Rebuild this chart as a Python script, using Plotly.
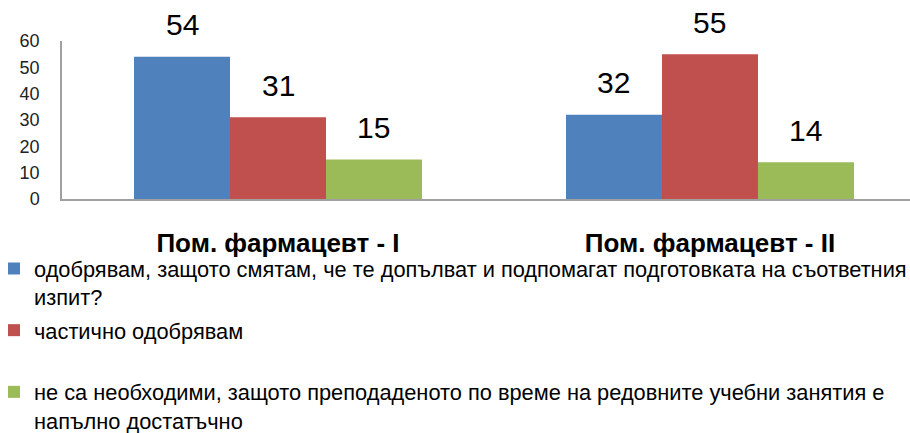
import plotly.graph_objects as go

categories = ["Пом. фармацевт - I", "Пом. фармацевт - II"]
series_names = [
    "одобрявам, защото смятам, че те допълват и подпомагат подготовката на съответния<br>изпит?",
    "частично одобрявам<br>\u00a0",
    "не са необходими, защото преподаденото по време на редовните учебни занятия е<br>напълно достатъчно",
]
series_values = [
    [54, 32],
    [31, 55],
    [15, 14],
]
colors = ["#4F81BD", "#C0504D", "#9BBB59"]
y_ticks = [0, 10, 20, 30, 40, 50, 60]

BARGAP = 1 / 3
FONT = "Liberation Sans, Arial, sans-serif"

fig = go.Figure()
for j, (name, vals, col) in enumerate(zip(series_names, series_values, colors)):
    fig.add_trace(go.Bar(
        x=[0, 1], y=vals, name=name, marker=dict(color=col, line=dict(width=0)),
        legendgroup=f"g{j}", hoverinfo="skip",
    ))

n = len(series_values)
bw = (1 - BARGAP) / n
annotations = []
for j, vals in enumerate(series_values):
    for i, v in enumerate(vals):
        annotations.append(dict(
            x=i + (j - (n - 1) / 2) * bw, y=v, xref="x", yref="y",
            text=str(v), showarrow=False, yanchor="middle", yshift=32,
            font=dict(family=FONT, size=30, color="#000000"),
        ))

fig.update_layout(
    width=910, height=433,
    margin=dict(l=62, r=0, t=41, b=234, autoexpand=False),
    paper_bgcolor="white", plot_bgcolor="white",
    barmode="group", bargap=BARGAP, bargroupgap=0,
    font=dict(family=FONT, color="#000000"),
    annotations=annotations,
    showlegend=True,
    legend=dict(
        orientation="v", x=-(62 + 6) / 848, xanchor="left", y=-0.309, yanchor="top",
        font=dict(family=FONT, size=21.8, color="#000000"),
        valign="top", traceorder="grouped", tracegroupgap=2,
        itemclick=False, itemdoubleclick=False, bgcolor="rgba(0,0,0,0)",
    ),
    xaxis=dict(
        tickmode="array", tickvals=[0, 1], ticktext=[f"<b>{c}</b>" for c in categories],
        range=[-0.5, 1.463], showgrid=False, zeroline=False,
        showline=True, linecolor="#A0A0A0", linewidth=1.5, ticks="",
        tickfont=dict(family=FONT, size=26, color="#000000"),
        ticklabelstandoff=20, fixedrange=True, automargin=False,
    ),
    yaxis=dict(
        range=[0, 60], tickvals=y_ticks, showgrid=False, zeroline=False,
        showline=True, linecolor="#A0A0A0", linewidth=1.5, ticks="",
        tickfont=dict(family=FONT, size=18, color="#222222"),
        ticklabelstandoff=17, fixedrange=True, automargin=False,
    ),
)

fig.write_html(
    "out.html",
    config={"displayModeBar": False},
    post_script="document.body.style.margin='0';document.body.style.overflow='hidden';",
)
